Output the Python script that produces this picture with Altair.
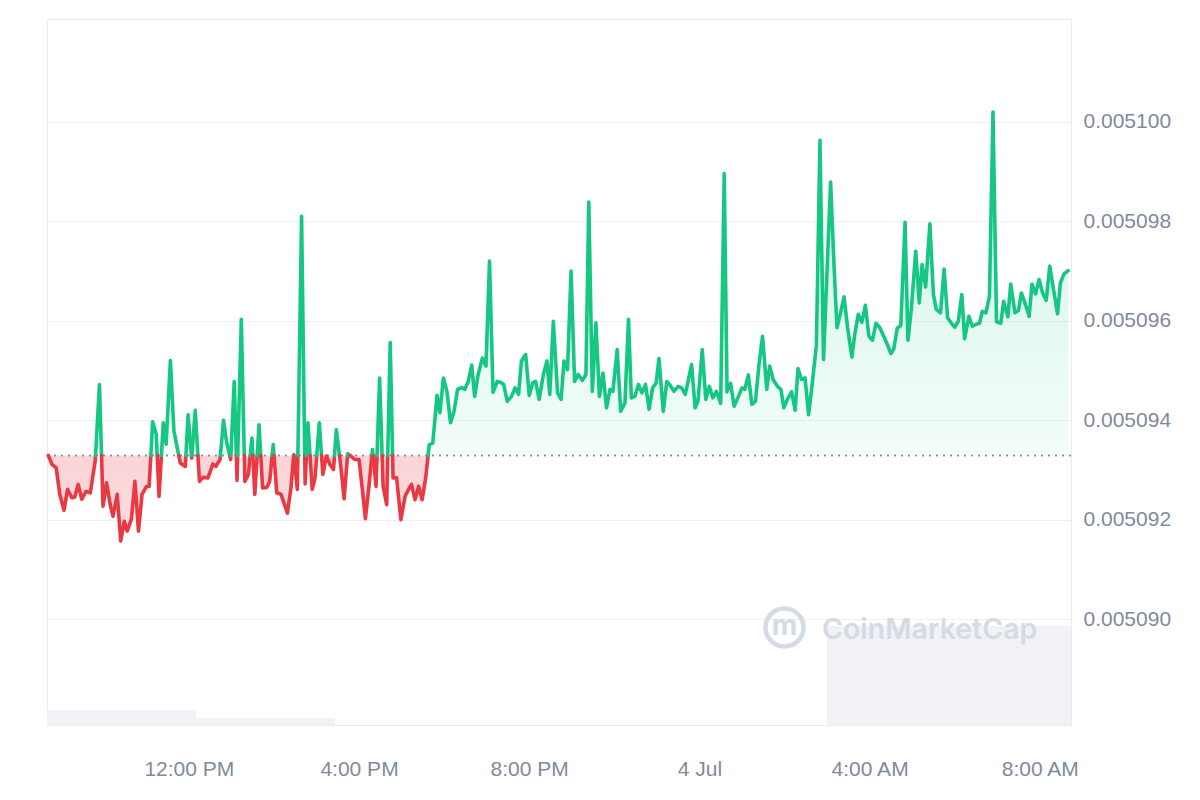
import altair as alt
import pandas as pd

# ---------------- data ----------------
START = "2024-07-03 08:40:00"          # left edge of the time axis
END = "2024-07-04 08:44:00"            # right edge of the time axis

# minutes after START for each price sample
minutes = [
    2, 7, 13, 18, 24, 29, 35, 39, 44, 49, 55, 61, 68, 74, 79, 84, 89, 93, 99, 104,
    109, 113, 119, 124, 129, 134, 140, 144, 149, 154, 158, 164, 168, 174, 179, 188, 195, 199, 204, 209,
    215, 220, 227, 234, 238, 244, 249, 253, 259, 264, 268, 274, 279, 284, 289, 293, 299, 304, 310, 314,
    319, 324, 330, 334, 339, 344, 348, 353, 359, 364, 368, 374, 378, 384, 389, 394, 399, 404, 408, 414,
    419, 424, 430, 434, 440, 445, 449, 454, 459, 464, 469, 474, 479, 484, 488, 493, 499, 505, 511, 514,
    519, 524, 529, 534, 539, 544, 550, 554, 559, 564, 569, 574, 579, 585, 589, 594, 599, 603, 608, 614,
    619, 624, 629, 635, 640, 644, 649, 655, 660, 665, 669, 675, 680, 685, 689, 694, 700, 705, 709, 714,
    720, 725, 729, 734, 739, 744, 749, 755, 760, 764, 769, 774, 779, 784, 789, 794, 798, 804, 809, 815,
    820, 824, 829, 834, 839, 844, 849, 854, 859, 863, 869, 874, 878, 884, 890, 895, 900, 904, 909, 914,
    918, 924, 929, 934, 939, 944, 950, 955, 959, 964, 969, 975, 980, 984, 989, 994, 999, 1004, 1009, 1015,
    1019, 1024, 1030, 1035, 1039, 1044, 1050, 1055, 1059, 1064, 1069, 1074, 1080, 1085, 1090, 1095, 1105, 1110, 1114, 1119,
    1124, 1129, 1135, 1139, 1144, 1149, 1154, 1159, 1164, 1169, 1174, 1179, 1184, 1190, 1194, 1199, 1204, 1210, 1214, 1219,
    1225, 1230, 1234, 1239, 1245, 1250, 1254, 1260, 1265, 1270, 1275, 1280, 1285, 1290, 1294, 1300, 1305, 1310, 1315, 1319,
    1324, 1329, 1334, 1339, 1345, 1349, 1355, 1359, 1365, 1370, 1374, 1379, 1385, 1389, 1394, 1399, 1404, 1409, 1414, 1419,
    1425, 1429, 1434, 1440,
]

prices = [
    0.00509329, 0.00509311, 0.00509304, 0.00509251, 0.00509219, 0.00509261, 0.00509244, 0.00509245, 0.00509271, 0.00509241,
    0.00509257, 0.00509254, 0.00509318, 0.00509472, 0.00509227, 0.00509274, 0.00509231, 0.00509207, 0.00509251, 0.00509157,
    0.00509197, 0.00509177, 0.00509201, 0.00509277, 0.00509177, 0.00509251, 0.00509266, 0.00509267, 0.00509397, 0.00509372,
    0.00509247, 0.00509395, 0.00509352, 0.00509520, 0.00509378, 0.00509314, 0.00509307, 0.00509411, 0.00509324, 0.00509420,
    0.00509277, 0.00509285, 0.00509284, 0.00509312, 0.00509307, 0.00509321, 0.00509400, 0.00509358, 0.00509321, 0.00509478,
    0.00509279, 0.00509603, 0.00509277, 0.00509291, 0.00509364, 0.00509251, 0.00509391, 0.00509264, 0.00509265, 0.00509277,
    0.00509351, 0.00509254, 0.00509251, 0.00509234, 0.00509213, 0.00509264, 0.00509331, 0.00509261, 0.00509810, 0.00509272,
    0.00509395, 0.00509261, 0.00509284, 0.00509395, 0.00509291, 0.00509328, 0.00509311, 0.00509301, 0.00509381, 0.00509311,
    0.00509242, 0.00509333, 0.00509326, 0.00509321, 0.00509321, 0.00509257, 0.00509202, 0.00509267, 0.00509341, 0.00509267,
    0.00509485, 0.00509267, 0.00509230, 0.00509556, 0.00509284, 0.00509284, 0.00509200, 0.00509247, 0.00509264, 0.00509271,
    0.00509240, 0.00509267, 0.00509240, 0.00509284, 0.00509351, 0.00509354, 0.00509450, 0.00509415, 0.00509485, 0.00509458,
    0.00509395, 0.00509418, 0.00509462, 0.00509466, 0.00509462, 0.00509478, 0.00509511, 0.00509448, 0.00509492, 0.00509525,
    0.00509509, 0.00509720, 0.00509456, 0.00509478, 0.00509476, 0.00509472, 0.00509438, 0.00509448, 0.00509465, 0.00509452,
    0.00509519, 0.00509532, 0.00509450, 0.00509475, 0.00509478, 0.00509442, 0.00509492, 0.00509519, 0.00509452, 0.00509599,
    0.00509455, 0.00509442, 0.00509519, 0.00509502, 0.00509700, 0.00509478, 0.00509492, 0.00509480, 0.00509492, 0.00509839,
    0.00509458, 0.00509596, 0.00509448, 0.00509495, 0.00509425, 0.00509462, 0.00509458, 0.00509542, 0.00509418, 0.00509435,
    0.00509603, 0.00509445, 0.00509448, 0.00509472, 0.00509455, 0.00509472, 0.00509422, 0.00509465, 0.00509475, 0.00509524,
    0.00509418, 0.00509478, 0.00509472, 0.00509458, 0.00509468, 0.00509465, 0.00509452, 0.00509478, 0.00509512, 0.00509425,
    0.00509438, 0.00509542, 0.00509442, 0.00509468, 0.00509445, 0.00509458, 0.00509434, 0.00509896, 0.00509457, 0.00509474,
    0.00509428, 0.00509448, 0.00509465, 0.00509462, 0.00509491, 0.00509432, 0.00509438, 0.00509512, 0.00509569, 0.00509462,
    0.00509509, 0.00509482, 0.00509468, 0.00509462, 0.00509425, 0.00509442, 0.00509457, 0.00509420, 0.00509504, 0.00509482,
    0.00509485, 0.00509411, 0.00509485, 0.00509552, 0.00509963, 0.00509522, 0.00509879, 0.00509706, 0.00509586, 0.00509616,
    0.00509648, 0.00509586, 0.00509527, 0.00509572, 0.00509613, 0.00509597, 0.00509631, 0.00509569, 0.00509561, 0.00509595,
    0.00509587, 0.00509572, 0.00509556, 0.00509534, 0.00509543, 0.00509585, 0.00509591, 0.00509798, 0.00509561, 0.00509626,
    0.00509740, 0.00509636, 0.00509713, 0.00509668, 0.00509795, 0.00509653, 0.00509623, 0.00509616, 0.00509704, 0.00509606,
    0.00509596, 0.00509587, 0.00509599, 0.00509653, 0.00509564, 0.00509609, 0.00509589, 0.00509593, 0.00509595, 0.00509619,
    0.00509616, 0.00509649, 0.00510020, 0.00509598, 0.00509595, 0.00509639, 0.00509608, 0.00509674, 0.00509616, 0.00509621,
    0.00509656, 0.00509636, 0.00509609, 0.00509674, 0.00509654, 0.00509683, 0.00509656, 0.00509641, 0.00509710, 0.00509666,
    0.00509614, 0.00509676, 0.00509694, 0.00509701,
]

# trading volume (relative units): three flat stretches
vol_start_min = [0, 210, 1100]
vol_end_min = [210, 406, 1444]
volume = [30, 14, 200]

y_ticks = [0.005090, 0.005092, 0.005094, 0.005096, 0.005098, 0.005100]
x_ticks = [(2024, 7, 3, 12), (2024, 7, 3, 16), (2024, 7, 3, 20),
           (2024, 7, 4, 0), (2024, 7, 4, 4), (2024, 7, 4, 8)]

# ---------------- styling ----------------
GREEN = "#16c784"
RED = "#ea3943"
LABEL = "#808a9d"
GRID = "#efefef"
Y_DOMAIN = [0.00508787, 0.00510207]
VOL_MAX = 1426
FONT = "Liberation Sans"

# ---------------- build table: split line at the baseline ----------------
base = prices[0]
t0 = pd.Timestamp(START)
times = [t0 + pd.Timedelta(minutes=m) for m in minutes]


def side(p):
    return "up" if p >= base else "down"


rows = []
seg = 0
s = side(prices[0])
rows.append(dict(time=times[0], price=prices[0], seg=seg, dir=s))
for i in range(1, len(prices)):
    s2 = side(prices[i])
    if s2 != s:
        p0, p1 = prices[i - 1], prices[i]
        frac = (base - p0) / (p1 - p0)
        tc = (times[i - 1] + (times[i] - times[i - 1]) * frac).round("s")
        rows.append(dict(time=tc, price=base, seg=seg, dir=s))
        seg += 1
        rows.append(dict(time=tc, price=base, seg=seg, dir=s2))
        s = s2
    rows.append(dict(time=times[i], price=prices[i], seg=seg, dir=s))
df = pd.DataFrame(rows)
df["time"] = df["time"].dt.strftime("%Y-%m-%dT%H:%M:%S")
df["base"] = base

vol_df = pd.DataFrame({
    "start": [(t0 + pd.Timedelta(minutes=m)).strftime("%Y-%m-%dT%H:%M:%S") for m in vol_start_min],
    "end": [(t0 + pd.Timedelta(minutes=m)).strftime("%Y-%m-%dT%H:%M:%S") for m in vol_end_min],
    "vol": volume,
})

te = pd.Timestamp(END)
x_domain = [
    alt.DateTime(year=t0.year, month=t0.month, date=t0.day, hours=t0.hour, minutes=t0.minute),
    alt.DateTime(year=te.year, month=te.month, date=te.day, hours=te.hour, minutes=te.minute),
]
x_scale = alt.Scale(domain=x_domain, nice=False)
x_axis = alt.Axis(
    values=[alt.DateTime(year=a, month=b, date=c, hours=d) for a, b, c, d in x_ticks],
    labelExpr="hours(datum.value) == 0 ? timeFormat(datum.value, '%-d %b') : timeFormat(datum.value, '%-I:%M %p')",
    grid=False, domain=False, ticks=False, tickSize=0, labelPadding=33,
    labelFont=FONT, labelFontSize=21, labelColor=LABEL, title=None,
)
y_scale = alt.Scale(domain=Y_DOMAIN, nice=False, zero=False)
y_axis = alt.Axis(
    orient="right", values=y_ticks, format=".6f", grid=True, gridColor=GRID, gridWidth=1,
    domain=False, ticks=False, tickSize=0, labelPadding=12,
    labelFont=FONT, labelFontSize=21, labelColor=LABEL, title=None,
)

X = alt.X("time:T", scale=x_scale, axis=x_axis, title=None)
Y = alt.Y("price:Q", scale=y_scale, axis=y_axis, title=None)
Y2 = alt.Y2("base:Q")

green_fill = alt.Gradient(
    gradient="linear", x1=0, y1=0, x2=0, y2=1,
    stops=[alt.GradientStop(color="rgba(22,199,132,0.22)", offset=0),
           alt.GradientStop(color="rgba(22,199,132,0.05)", offset=1)],
)
red_fill = alt.Gradient(
    gradient="linear", x1=0, y1=0, x2=0, y2=1,
    stops=[alt.GradientStop(color="rgba(234,57,67,0.22)", offset=0),
           alt.GradientStop(color="rgba(234,57,67,0.17)", offset=1)],
)

up_area = alt.Chart(df).transform_filter("datum.dir == 'up'").mark_area(
    color=green_fill, interpolate="linear"
).encode(x=X, y=Y, y2=Y2)

down_area = alt.Chart(df).transform_filter("datum.dir == 'down'").mark_area(
    color=red_fill, interpolate="linear"
).encode(x=X, y=Y, y2=Y2)

base_rule = alt.Chart(df).transform_filter("datum.seg == 0").mark_rule(
    color="#8a93a3", strokeDash=[2, 5], strokeWidth=1.6
).encode(y=alt.Y("base:Q", scale=y_scale, axis=y_axis, title=None))

lines = alt.Chart(df).mark_line(strokeWidth=3.6, strokeJoin="round", strokeCap="round").encode(
    x=X, y=Y,
    color=alt.Color("dir:N", scale=alt.Scale(domain=["up", "down"], range=[GREEN, RED]), legend=None),
    detail="seg:N",
)

price_layer = alt.layer(up_area, down_area, base_rule, lines)

vol_layer = alt.Chart(vol_df).mark_rect(color="#f0f2f6").encode(
    x=alt.X("start:T", scale=x_scale, axis=x_axis, title=None),
    x2="end:T",
    y=alt.Y("vol:Q", scale=alt.Scale(domain=[0, VOL_MAX]), axis=None, title=None),
    y2=alt.datum(0),
)

WM = "#d5dbe4"
wm_df = pd.DataFrame({"name": ["CoinMarketCap"], "m": ["m"]})
wm_text = alt.Chart(wm_df).mark_text(
    font="Inter", fontSize=28.5, fontWeight=600, color=WM, align="left", baseline="middle"
).encode(text="name:N", x=alt.value(775), y=alt.value(611))
wm_circle = alt.Chart(wm_df).mark_point(
    shape="circle", filled=False, size=1450, strokeWidth=4.5, color=WM, opacity=1
).encode(x=alt.value(737.5), y=alt.value(608.5))
wm_m = alt.Chart(wm_df).mark_text(
    font="Inter", fontSize=28, fontWeight="bold", color=WM, align="center", baseline="middle"
).encode(text="m:N", x=alt.value(737.5), y=alt.value(608))

chart = alt.layer(vol_layer, wm_circle, wm_m, wm_text, price_layer).resolve_scale(
    y="independent"
).properties(
    width=1024, height=706,
    autosize=alt.AutoSizeParams(type="none"),
    padding={"left": 39, "top": 11, "right": 121, "bottom": 66},
).configure_view(stroke="#ebebeb", strokeWidth=1)

chart.save("out.html", embed_options={"renderer": "svg", "actions": False})
